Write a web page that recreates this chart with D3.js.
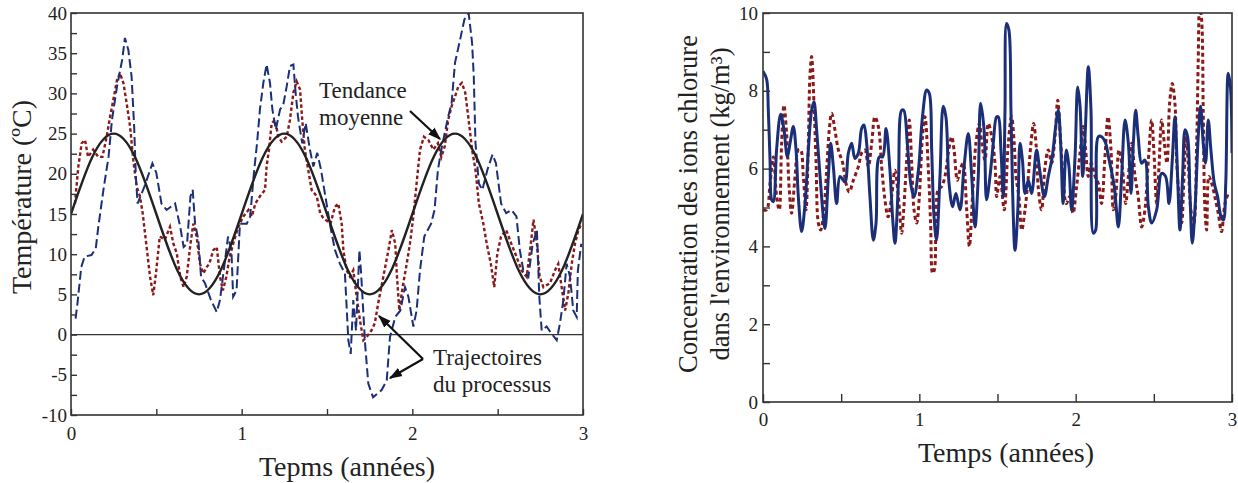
<!DOCTYPE html>
<html>
<head>
<meta charset="utf-8">
<script src="https://cdn.jsdelivr.net/npm/d3@7"></script>
<style>
  body { margin: 0; background: #fff; }
  svg text { font-family: "Liberation Serif", "DejaVu Serif", serif; fill: #222; }
</style>
</head>
<body>
<svg id="chart" width="1238" height="483"></svg>
<script>
// ---- data ----
// left chart: température (ºC) vs temps (années)
var trendTimes = [0, 0.125, 0.25, 0.375, 0.5, 0.625, 0.75, 0.875, 1, 1.125, 1.25, 1.375, 1.5, 1.625, 1.75, 1.875, 2, 2.125, 2.25, 2.375, 2.5, 2.625, 2.75, 2.875, 3];
var trendValues = [15, 22.1, 25, 22.1, 15, 7.9, 5, 7.9, 15, 22.1, 25, 22.1, 15, 7.9, 5, 7.9, 15, 22.1, 25, 22.1, 15, 7.9, 5, 7.9, 15];

var tempBlue = [[0.027,2.0],[0.04,4.3],[0.06,8.4],[0.08,9.7],[0.12,9.9],[0.145,10.7],[0.16,13.4],[0.19,18],[0.22,22.1],[0.24,26.7],[0.27,30.9],[0.30,34.2],[0.316,36.9],[0.336,35.4],[0.355,32.1],[0.37,25.9],[0.38,19.7],[0.39,16.3],[0.43,18.4],[0.477,21.3],[0.50,20.1],[0.53,16.3],[0.56,15.5],[0.61,16.3],[0.64,13.4],[0.66,10.9],[0.68,11.3],[0.70,17.2],[0.713,18],[0.727,13.8],[0.746,11.8],[0.762,7.2],[0.785,6.4],[0.82,4.3],[0.854,2.8],[0.873,4.3],[0.90,8.8],[0.92,12.2],[0.94,10.5],[0.95,4.7],[0.97,5.5],[0.99,13.8],[1.03,13.8],[1.05,14.7],[1.07,19.7],[1.09,23.8],[1.107,28],[1.127,31.3],[1.146,33.6],[1.166,31.3],[1.18,28],[1.2,25.5],[1.225,28],[1.244,28.6],[1.264,30.9],[1.283,33.4],[1.303,33.6],[1.316,30.1],[1.33,27.1],[1.355,23.8],[1.375,26.3],[1.40,23],[1.42,20.9],[1.443,22.6],[1.465,20.5],[1.478,18.8],[1.52,13.4],[1.547,10.5],[1.576,8.8],[1.605,7.6],[1.625,-0.7],[1.639,-2.4],[1.654,4.3],[1.67,0.5],[1.69,10.5],[1.70,7.6],[1.723,-1.1],[1.742,-6.1],[1.77,-7.8],[1.82,-6.9],[1.85,-5.7],[1.869,-0.3],[1.90,2.2],[1.93,3.0],[1.957,5.9],[1.977,4.7],[2.006,1.0],[2.025,3.0],[2.045,8.0],[2.07,12.2],[2.11,13.8],[2.13,15.5],[2.15,20.5],[2.17,23],[2.19,25.1],[2.21,27.1],[2.23,28.8],[2.25,33.8],[2.28,36.7],[2.305,39.2],[2.33,40],[2.35,36.3],[2.36,32.1],[2.37,23.8],[2.39,18.8],[2.41,18],[2.44,20.5],[2.47,22.4],[2.49,21.3],[2.52,16.3],[2.55,15.1],[2.58,15.5],[2.61,14.7],[2.63,10.5],[2.65,8.0],[2.68,7.2],[2.705,11.3],[2.73,13],[2.744,4.7],[2.758,0.5],[2.787,1.0],[2.816,0.1],[2.846,-0.7],[2.865,1.4],[2.885,4.3],[2.904,8.8],[2.924,7.2],[2.943,3.0],[2.963,2.2],[2.97,8.0],[2.99,11.3]];

var tempRed = [[0.023,16.3],[0.043,20.9],[0.0625,23.8],[0.082,24.2],[0.10,22.1],[0.13,23],[0.16,22.1],[0.184,22.1],[0.209,24.6],[0.229,27.1],[0.248,29.2],[0.27,31.7],[0.287,32.5],[0.307,31.3],[0.326,28.8],[0.346,25.9],[0.365,21.7],[0.385,18.4],[0.404,17.2],[0.42,15.1],[0.443,10.9],[0.463,7.2],[0.482,4.9],[0.50,8.0],[0.52,12.2],[0.55,11.8],[0.58,13.4],[0.60,11.3],[0.62,10.1],[0.64,7.2],[0.66,5.9],[0.678,7.2],[0.70,11.3],[0.717,13.8],[0.736,12.2],[0.756,8.8],[0.775,7.6],[0.795,8.4],[0.81,8.8],[0.834,10.5],[0.854,10.9],[0.873,7.2],[0.89,5.5],[0.91,7.2],[0.93,9.7],[0.95,11.3],[0.98,13.4],[1.01,14.7],[1.04,15.5],[1.06,14.7],[1.08,16.3],[1.107,17.2],[1.137,18],[1.146,20.9],[1.16,23],[1.176,26.3],[1.195,26.7],[1.215,24.6],[1.234,24],[1.264,24.6],[1.283,26.7],[1.303,30.1],[1.322,31.5],[1.342,30.5],[1.355,26.7],[1.37,23],[1.39,20.5],[1.41,18],[1.44,17.2],[1.46,15.1],[1.478,14.5],[1.52,13.8],[1.547,15.9],[1.566,16.3],[1.586,13.8],[1.596,10.5],[1.615,8.0],[1.635,7.2],[1.654,8.0],[1.674,4.7],[1.693,1.8],[1.713,-0.7],[1.732,-0.3],[1.76,0.5],[1.78,1.4],[1.80,3.9],[1.83,7.2],[1.86,10.5],[1.88,13],[1.90,11.3],[1.91,7.2],[1.924,3.0],[1.943,5.9],[1.967,8.8],[1.986,11.3],[2.006,14.7],[2.025,18.8],[2.045,23],[2.068,24.6],[2.094,24.2],[2.123,23],[2.15,23.8],[2.17,22.1],[2.19,23.4],[2.21,26.7],[2.23,28.4],[2.25,29.6],[2.27,30.9],[2.29,31.3],[2.31,30.1],[2.33,26.7],[2.35,23],[2.37,20.5],[2.39,16.3],[2.416,13.8],[2.436,11.3],[2.46,8.8],[2.48,5.9],[2.498,10.1],[2.52,12.2],[2.55,13],[2.58,11.3],[2.61,9.7],[2.64,8.0],[2.67,7.2],[2.69,10.5],[2.71,14.3],[2.73,11.3],[2.746,7.2],[2.768,5.9],[2.807,6.4],[2.836,8.0],[2.855,8.8],[2.875,5.9],[2.895,3.0],[2.914,5.1],[2.934,8.8],[2.953,11.3],[2.973,13],[2.99,13.8]];

// right chart: concentration des ions chlorure (kg/m3)
var chlorBlue = [[0.0,8.5],[0.023,8.3],[0.034,7.5],[0.045,6.2],[0.055,5.2],[0.066,5.15],[0.087,6.5],[0.113,7.4],[0.134,7.0],[0.156,6.3],[0.173,6.65],[0.194,7.08],[0.211,6.5],[0.226,5.28],[0.247,4.38],[0.269,5.1],[0.29,6.48],[0.311,7.5],[0.326,7.72],[0.343,7.0],[0.365,5.8],[0.386,4.76],[0.397,4.46],[0.418,5.8],[0.433,6.65],[0.45,6.05],[0.471,5.1],[0.493,5.8],[0.524,5.66],[0.546,6.4],[0.567,6.65],[0.588,6.26],[0.61,6.4],[0.631,7.03],[0.646,7.12],[0.663,6.65],[0.684,5.28],[0.706,4.16],[0.723,4.6],[0.744,6.3],[0.765,6.3],[0.787,7.03],[0.812,5.96],[0.83,4.68],[0.844,4.08],[0.866,5.62],[0.887,7.5],[0.90,7.5],[0.923,6.65],[0.945,5.62],[0.966,5.28],[0.994,5.96],[1.02,7.33],[1.047,8.02],[1.064,7.93],[1.079,6.48],[1.094,4.76],[1.11,4.16],[1.132,5.8],[1.153,7.6],[1.17,7.33],[1.19,5.62],[1.213,5.02],[1.234,5.36],[1.26,4.94],[1.286,6.05],[1.313,6.9],[1.335,5.8],[1.356,4.5],[1.377,5.8],[1.392,7.68],[1.414,7.0],[1.43,5.2],[1.452,5.8],[1.473,6.65],[1.494,7.33],[1.505,7.33],[1.522,6.48],[1.537,5.28],[1.548,7.5],[1.558,9.73],[1.573,9.56],[1.586,7.5],[1.597,5.36],[1.612,3.9],[1.63,4.94],[1.644,6.65],[1.66,6.2],[1.676,5.36],[1.697,5.7],[1.718,5.36],[1.75,6.48],[1.77,5.96],[1.8,5.28],[1.825,5.8],[1.85,6.3],[1.872,7.08],[1.889,7.5],[1.904,6.65],[1.92,5.1],[1.94,6.48],[1.957,6.05],[1.974,4.94],[1.996,6.3],[2.013,8.1],[2.028,7.6],[2.045,5.8],[2.06,6.82],[2.081,8.62],[2.098,7.5],[2.113,4.34],[2.128,4.42],[2.145,6.82],[2.166,6.82],[2.192,6.65],[2.21,6.3],[2.247,5.54],[2.273,4.5],[2.294,5.8],[2.316,7.25],[2.337,6.65],[2.354,5.36],[2.369,6.65],[2.384,7.5],[2.4,6.82],[2.422,6.14],[2.443,6.22],[2.465,5.02],[2.486,4.6],[2.518,4.94],[2.55,5.88],[2.575,5.8],[2.597,5.1],[2.618,6.22],[2.635,7.33],[2.652,5.8],[2.667,4.42],[2.684,5.8],[2.70,7.0],[2.716,6.82],[2.731,5.36],[2.746,4.08],[2.763,4.94],[2.784,6.82],[2.799,7.6],[2.816,6.65],[2.831,6.14],[2.848,7.25],[2.865,6.48],[2.887,5.62],[2.908,5.28],[2.93,4.76],[2.945,4.68],[2.96,5.62],[2.976,8.45],[2.99,8.1],[3.0,6.4]];

var chlorRed = [[0.0,4.94],[0.023,4.94],[0.045,5.62],[0.066,6.3],[0.087,5.28],[0.104,4.94],[0.119,6.65],[0.134,7.63],[0.151,6.9],[0.168,5.45],[0.183,4.85],[0.205,5.8],[0.226,6.48],[0.241,6.48],[0.258,5.8],[0.275,4.94],[0.29,6.65],[0.30,8.36],[0.311,8.88],[0.326,7.68],[0.339,6.22],[0.354,4.6],[0.369,4.42],[0.39,4.94],[0.407,5.96],[0.424,7.0],[0.439,7.42],[0.46,7.0],[0.482,6.48],[0.51,6.14],[0.531,5.62],[0.552,5.4],[0.578,5.7],[0.61,6.05],[0.631,6.4],[0.652,6.48],[0.674,6.05],[0.695,6.65],[0.716,7.33],[0.738,7.08],[0.759,6.05],[0.78,5.2],[0.80,4.76],[0.823,5.28],[0.844,5.96],[0.866,5.28],[0.887,4.34],[0.90,4.94],[0.919,6.22],[0.936,7.25],[0.951,6.14],[0.966,4.94],[0.983,4.6],[1.0,5.28],[1.02,6.82],[1.036,7.33],[1.058,5.96],[1.072,4.6],[1.085,3.31],[1.096,3.39],[1.107,4.94],[1.12,5.45],[1.143,5.54],[1.164,5.8],[1.185,6.4],[1.207,6.82],[1.222,6.48],[1.243,5.7],[1.26,5.96],[1.28,6.14],[1.303,4.94],[1.32,4.0],[1.341,5.36],[1.362,6.65],[1.384,7.16],[1.40,6.65],[1.42,6.22],[1.441,7.16],[1.463,6.82],[1.484,6.14],[1.495,5.28],[1.516,5.8],[1.543,4.94],[1.569,6.65],[1.59,7.33],[1.607,6.65],[1.618,5.8],[1.637,5.28],[1.655,4.42],[1.676,4.94],[1.697,5.8],[1.714,6.65],[1.731,7.16],[1.748,6.56],[1.76,5.54],[1.782,4.94],[1.804,6.05],[1.825,6.48],[1.846,6.14],[1.868,6.82],[1.885,7.76],[1.902,6.82],[1.92,5.8],[1.94,5.1],[1.962,5.28],[1.983,4.85],[2.006,5.54],[2.028,6.4],[2.049,7.08],[2.064,6.48],[2.081,5.8],[2.1,6.14],[2.124,5.8],[2.145,5.62],[2.166,5.1],[2.186,6.22],[2.207,7.33],[2.226,6.48],[2.241,4.94],[2.256,5.28],[2.277,6.48],[2.298,6.05],[2.32,5.1],[2.337,5.8],[2.358,6.65],[2.38,5.8],[2.4,5.28],[2.422,4.5],[2.443,4.94],[2.465,6.22],[2.486,7.25],[2.5,6.48],[2.518,5.1],[2.533,6.05],[2.55,7.25],[2.567,6.65],[2.584,6.14],[2.601,7.68],[2.618,8.19],[2.635,7.68],[2.646,6.22],[2.661,5.28],[2.678,4.6],[2.693,5.8],[2.706,6.82],[2.72,6.14],[2.737,4.94],[2.756,4.6],[2.774,6.65],[2.784,8.79],[2.793,10.2],[2.806,9.8],[2.816,7.5],[2.827,4.94],[2.838,4.42],[2.852,5.8],[2.87,5.62],[2.89,5.28],[2.912,4.85],[2.933,4.38],[2.955,5.1],[2.976,5.36]];

var tempYTicks = [-10, -7.5, -5, -2.5, 0, 2.5, 5, 7.5, 10, 12.5, 15, 17.5, 20, 22.5, 25, 27.5, 30, 32.5, 35, 37.5, 40];
var chlorYTicks = [0, 1, 2, 3, 4, 5, 6, 7, 8, 9, 10];
var yearTicks = [0, 0.5, 1, 1.5, 2, 2.5, 3];

var blue = "#1b2f78";
var red = "#8c1818";
var serif = "'Liberation Serif', 'DejaVu Serif', serif";

var svg = d3.select("#chart");

// ---------- left chart ----------
var gL = svg.append("g");
var xL = d3.scaleLinear().domain([0, 3]).range([71, 583]);
var yL = d3.scaleLinear().domain([-10, 40]).range([415, 13]);

gL.append("clipPath").attr("id", "clipL")
    .append("rect").attr("x", 71).attr("y", 13).attr("width", 512).attr("height", 402);

gL.append("line")
    .attr("x1", xL(0)).attr("x2", xL(3))
    .attr("y1", yL(0)).attr("y2", yL(0))
    .attr("stroke", "#333").attr("stroke-width", 1.3);

var lineL = d3.line().x(d => xL(d[0])).y(d => yL(d[1]));

var plotL = gL.append("g").attr("clip-path", "url(#clipL)");

plotL.append("path")
    .datum(tempRed)
    .attr("d", lineL)
    .attr("fill", "none")
    .attr("stroke", red)
    .attr("stroke-width", 2.4)
    .attr("stroke-dasharray", "3.5,2.5");

plotL.append("path")
    .datum(tempBlue)
    .attr("d", lineL)
    .attr("fill", "none")
    .attr("stroke", blue)
    .attr("stroke-width", 2)
    .attr("stroke-dasharray", "9,4");

plotL.append("path")
    .datum(d3.zip(trendTimes, trendValues))
    .attr("d", lineL.curve(d3.curveNatural))
    .attr("fill", "none")
    .attr("stroke", "#222")
    .attr("stroke-width", 2.4);

var xAxisL = d3.axisBottom(xL).tickValues(yearTicks).tickSize(-6).tickPadding(12)
    .tickFormat(d => Number.isInteger(d) ? d : "");
gL.append("g").attr("transform", "translate(0,415)").call(xAxisL)
    .call(g => g.select(".domain").remove());

var yAxisL = d3.axisLeft(yL).tickValues(tempYTicks).tickSize(-6).tickPadding(4)
    .tickFormat(d => d % 5 === 0 ? d : "");
gL.append("g").attr("transform", "translate(71,0)").call(yAxisL)
    .call(g => g.select(".domain").remove());

gL.append("rect")
    .attr("x", 71).attr("y", 13).attr("width", 512).attr("height", 402)
    .attr("fill", "none").attr("stroke", "#333").attr("stroke-width", 1.6);

gL.append("text")
    .attr("x", 347).attr("y", 476)
    .attr("text-anchor", "middle")
    .style("font-size", "28px")
    .text("Tepms (années)");

gL.append("text")
    .attr("transform", "translate(31,197) rotate(-90)")
    .attr("text-anchor", "middle")
    .style("font-size", "28px")
    .text("Température (ºC)");

// annotations
gL.append("text").attr("x", 319).attr("y", 98).style("font-size", "23px").text("Tendance");
gL.append("text").attr("x", 319).attr("y", 125).style("font-size", "23px").text("moyenne");
gL.append("text").attr("x", 433).attr("y", 365).style("font-size", "23px").text("Trajectoires");
gL.append("text").attr("x", 433).attr("y", 392).style("font-size", "23px").text("du processus");

svg.append("defs").append("marker")
    .attr("id", "head")
    .attr("viewBox", "0 0 10 10")
    .attr("refX", 9).attr("refY", 5)
    .attr("markerWidth", 6).attr("markerHeight", 6)
    .attr("orient", "auto-start-reverse")
    .append("path").attr("d", "M0,1.5L10,5L0,8.5Z").attr("fill", "#111");

gL.append("line")
    .attr("x1", 410).attr("y1", 111).attr("x2", 440).attr("y2", 139)
    .attr("stroke", "#111").attr("stroke-width", 2.2).attr("marker-end", "url(#head)");
gL.append("line")
    .attr("x1", 423).attr("y1", 359).attr("x2", 379).attr("y2", 316)
    .attr("stroke", "#111").attr("stroke-width", 2.2).attr("marker-end", "url(#head)");
gL.append("line")
    .attr("x1", 423).attr("y1", 359).attr("x2", 390).attr("y2", 378)
    .attr("stroke", "#111").attr("stroke-width", 2.2).attr("marker-end", "url(#head)");

// ---------- right chart ----------
var gR = svg.append("g");
var xR = d3.scaleLinear().domain([0, 3]).range([763, 1232]);
var yR = d3.scaleLinear().domain([0, 10]).range([402, 13]);

gR.append("clipPath").attr("id", "clipR")
    .append("rect").attr("x", 763).attr("y", 13).attr("width", 469).attr("height", 389);

var lineR = d3.line().x(d => xR(d[0])).y(d => yR(d[1])).curve(d3.curveCatmullRom.alpha(0.5));

var plotR = gR.append("g").attr("clip-path", "url(#clipR)");

plotR.append("path")
    .datum(chlorRed)
    .attr("d", lineR)
    .attr("fill", "none")
    .attr("stroke", red)
    .attr("stroke-width", 3)
    .attr("stroke-dasharray", "4,3");

plotR.append("path")
    .datum(chlorBlue)
    .attr("d", lineR)
    .attr("fill", "none")
    .attr("stroke", blue)
    .attr("stroke-width", 3);

var xAxisR = d3.axisBottom(xR).tickValues(yearTicks).tickSize(-8).tickPadding(11)
    .tickFormat(d => Number.isInteger(d) ? d : "");
gR.append("g").attr("transform", "translate(0,402)").call(xAxisR)
    .call(g => g.select(".domain").remove());

var yAxisR = d3.axisLeft(yR).tickValues(chlorYTicks).tickSize(-7).tickPadding(5)
    .tickFormat(d => d % 2 === 0 ? d : "");
gR.append("g").attr("transform", "translate(763,0)").call(yAxisR)
    .call(g => g.select(".domain").remove());

gR.append("rect")
    .attr("x", 763).attr("y", 13).attr("width", 469).attr("height", 389)
    .attr("fill", "none").attr("stroke", "#333").attr("stroke-width", 1.6);

gR.append("text")
    .attr("x", 1006).attr("y", 462)
    .attr("text-anchor", "middle")
    .style("font-size", "28px")
    .text("Temps (années)");

gR.append("text")
    .attr("transform", "translate(697,204) rotate(-90)")
    .attr("text-anchor", "middle")
    .style("font-size", "26.5px")
    .text("Concentration des ions chlorure");

gR.append("text")
    .attr("transform", "translate(729,204) rotate(-90)")
    .attr("text-anchor", "middle")
    .style("font-size", "26.5px")
    .text("dans l'environnement (kg/m³)");

svg.selectAll(".tick text")
    .style("font-family", serif)
    .style("font-size", "19px")
    .attr("fill", "#222");
svg.selectAll(".tick line").attr("stroke", "#333").attr("stroke-width", 1.4);
</script>
</body>
</html>
